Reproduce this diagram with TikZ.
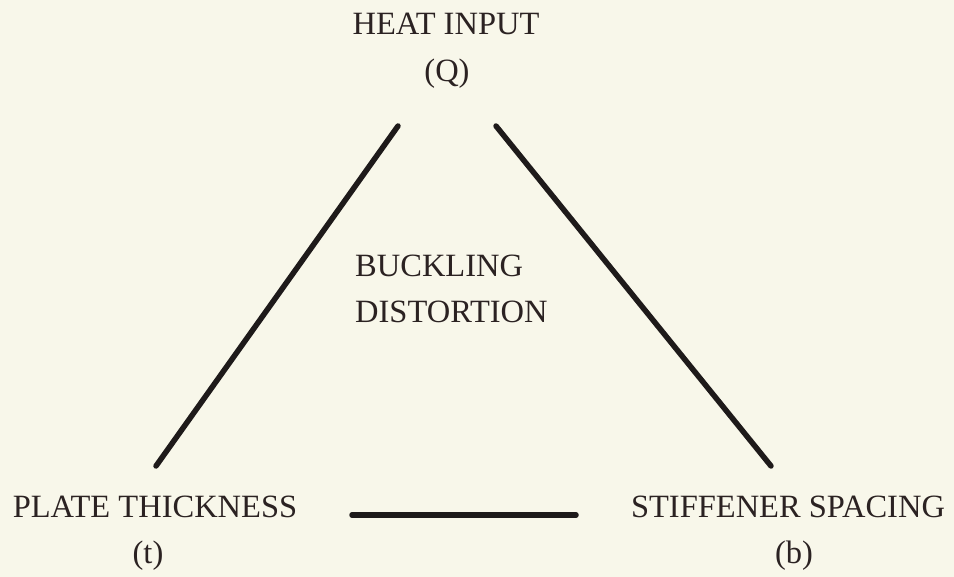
\documentclass[tikz,border=0pt]{standalone}
\usepackage{fontspec}
\setmainfont{Liberation Serif}
\definecolor{paper}{HTML}{F8F7EA}
\definecolor{ink}{HTML}{2B2222}
\definecolor{stroke}{HTML}{1E1A1A}
\begin{document}
\begin{tikzpicture}[x=1pt,y=-1pt,
  lbl/.style={text=ink,inner sep=0pt,font=\fontsize{32.5}{38}\selectfont},
  bar/.style={draw=stroke,line width=5.5pt,line cap=round}]
\fill[paper] (0,0) rectangle (954,577);
\useasboundingbox (0,0) rectangle (954,577);
% labels
\node[lbl,anchor=base] (heat) at (446,35) {HEAT INPUT};
\node[lbl,anchor=base] (q) at (447,82) {(Q)};
\node[lbl,anchor=base west] (buck) at (355,277) {BUCKLING};
\node[lbl,anchor=base west] (dist) at (355,323) {DISTORTION};
\node[lbl,anchor=base] (plate) at (155,517) {PLATE THICKNESS};
\node[lbl,anchor=base] (t) at (148,563) {(t)};
\node[lbl,anchor=base] (stiff) at (788,517) {STIFFENER SPACING};
\node[lbl,anchor=base] (b) at (794,563) {(b)};
% line ends
\coordinate (lt) at (398,126);
\coordinate (lb) at (156,466);
\coordinate (rt) at (496,126);
\coordinate (rb) at (771,466);
\coordinate (bl) at (352,515);
\coordinate (br) at (576,515);
\draw[bar] (lt) -- (lb);
\draw[bar] (rt) -- (rb);
\draw[bar] (bl) -- (br);
\end{tikzpicture}
\end{document}
